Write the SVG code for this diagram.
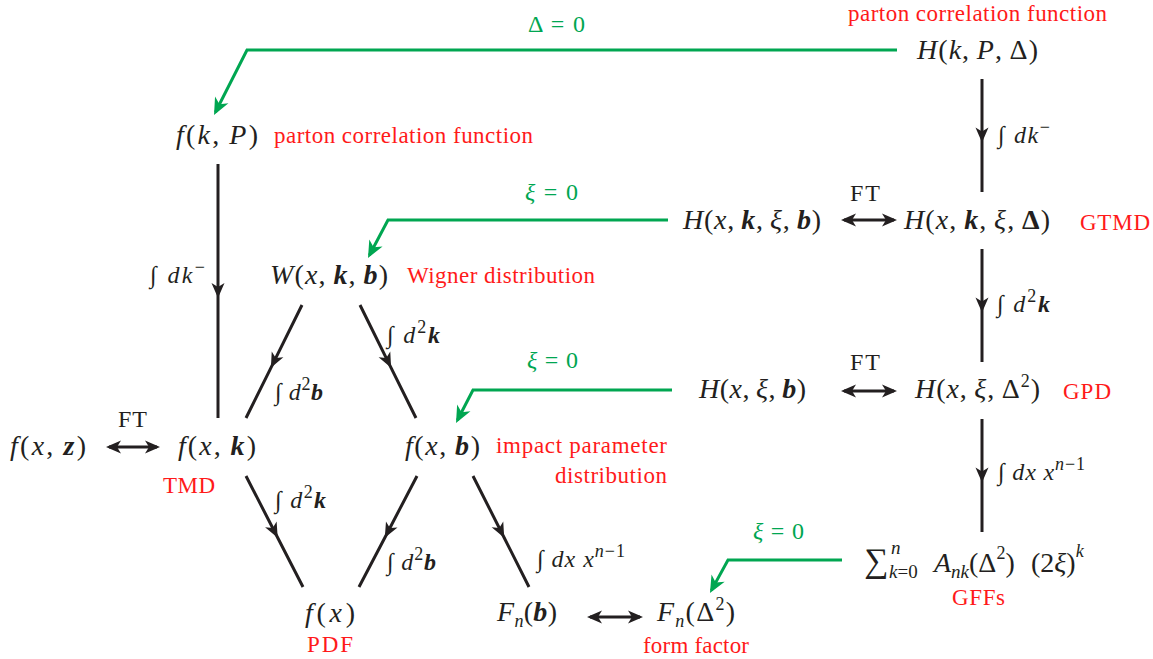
<svg xmlns="http://www.w3.org/2000/svg" width="1153" height="659" viewBox="0 0 1153 659">
<style>
text{font-family:"Liberation Serif",serif}
.m{font-size:28px;fill:#231f20}
.i{font-style:italic}
.bi{font-style:italic;font-weight:bold}
.bu{font-weight:bold}
.s{font-size:18px}
.l{font-size:24px;fill:#231f20}
.r{font-size:23px;fill:#ff1a1a}
.g{font-size:24px;fill:#00a651}
.ln{fill:none;stroke:#231f20;stroke-width:3}
.gl{fill:none;stroke:#00a651;stroke-width:3}
</style>
<defs>
<marker id="am" markerUnits="userSpaceOnUse" viewBox="-16 -8 18 16" markerWidth="18" markerHeight="16" refX="0" refY="0" orient="auto"><path d="M0,0 L-15,-6.5 L-11,0 L-15,6.5Z" fill="#231f20"/></marker>
<marker id="ae" markerUnits="userSpaceOnUse" viewBox="-16 -8 18 16" markerWidth="18" markerHeight="16" refX="-3" refY="0" orient="auto-start-reverse"><path d="M0,0 L-15,-6.5 L-11,0 L-15,6.5Z" fill="#231f20"/></marker>
<marker id="ag" markerUnits="userSpaceOnUse" viewBox="-18 -9 20 18" markerWidth="20" markerHeight="18" refX="-3" refY="0" orient="auto"><path d="M0,0 L-17,-7.5 L-12,0 L-17,7.5Z" fill="#00a651"/></marker>
</defs>
<g id="connectors">
<path class="ln" d="M982,79 L982,142.5 L982,192" marker-mid="url(#am)"/>
<path class="ln" d="M982,249 L982,312.5 L982,362" marker-mid="url(#am)"/>
<path class="ln" d="M982,419 L982,482.5 L982,532" marker-mid="url(#am)"/>
<path class="ln" d="M218,164 L218,298 L218,418" marker-mid="url(#am)"/>
<path class="ln" d="M302,305 L270.9,367.8 L246,418" marker-mid="url(#am)"/>
<path class="ln" d="M360,305 L391.1,367.8 L416,418" marker-mid="url(#am)"/>
<path class="ln" d="M246,476 L277.7,537.7 L303,587" marker-mid="url(#am)"/>
<path class="ln" d="M417,476 L384.8,537.7 L359,587" marker-mid="url(#am)"/>
<path class="ln" d="M473,476 L504.2,537.7 L529,587" marker-mid="url(#am)"/>
<path class="ln" d="M844,220 L894,220" marker-start="url(#ae)" marker-end="url(#ae)"/>
<path class="ln" d="M844,391 L894,391" marker-start="url(#ae)" marker-end="url(#ae)"/>
<path class="ln" d="M109,447 L157,447" marker-start="url(#ae)" marker-end="url(#ae)"/>
<path class="ln" d="M590,617 L640,617" marker-start="url(#ae)" marker-end="url(#ae)"/>
<path class="gl" d="M897,50 L247,50 L215.4,112.3" marker-end="url(#ag)"/>
<path class="gl" d="M668,220 L388,220 L369.4,255.3" marker-end="url(#ag)"/>
<path class="gl" d="M672,390 L473,390 L457.4,420.3" marker-end="url(#ag)"/>
<path class="gl" d="M842,560 L728,560 L711.4,590.4" marker-end="url(#ag)"/>
<text class="g" x="528" y="32" textLength="57">Δ = 0</text>
<text class="g" x="525" y="200" textLength="53"><tspan class="i">ξ</tspan> = 0</text>
<text class="g" x="527" y="368" textLength="51"><tspan class="i">ξ</tspan> = 0</text>
<text class="g" x="753" y="539" textLength="51"><tspan class="i">ξ</tspan> = 0</text>
<text class="l" x="998" y="143" textLength="52">∫ <tspan class="i">dk</tspan><tspan class="s" dy="-10">−</tspan></text>
<text class="l" x="150" y="283" textLength="55">∫ <tspan class="i">dk</tspan><tspan class="s" dy="-10">−</tspan></text>
<text class="l" x="997" y="312" textLength="53">∫ <tspan class="i">d</tspan><tspan class="s" dy="-10">2</tspan><tspan class="bi" dy="10">k</tspan></text>
<text class="l" x="387" y="343" textLength="53">∫ <tspan class="i">d</tspan><tspan class="s" dy="-10">2</tspan><tspan class="bi" dy="10">k</tspan></text>
<text class="l" x="275" y="400" textLength="48">∫ <tspan class="i">d</tspan><tspan class="s" dy="-10">2</tspan><tspan class="bi" dy="10">b</tspan></text>
<text class="l" x="275" y="508" textLength="51">∫ <tspan class="i">d</tspan><tspan class="s" dy="-10">2</tspan><tspan class="bi" dy="10">k</tspan></text>
<text class="l" x="387" y="570" textLength="49">∫ <tspan class="i">d</tspan><tspan class="s" dy="-10">2</tspan><tspan class="bi" dy="10">b</tspan></text>
<text class="l" x="537" y="567" textLength="88">∫ <tspan class="i">dx x</tspan><tspan class="s" dy="-10"><tspan class="i">n</tspan>−1</tspan></text>
<text class="l" x="998" y="480" textLength="87">∫ <tspan class="i">dx x</tspan><tspan class="s" dy="-10"><tspan class="i">n</tspan>−1</tspan></text>
<text class="l" x="850" y="201" textLength="30">FT</text>
<text class="l" x="850" y="370" textLength="30">FT</text>
<text class="l" x="118" y="427" textLength="29">FT</text>
</g>

<g id="n-HkPD">
<text class="r" x="848" y="21" textLength="259">parton correlation function</text>
<text class="m" x="917" y="59" textLength="121"><tspan class="i">H</tspan>(<tspan class="i">k</tspan>,&#8201;<tspan class="i">P</tspan>,&#8201;Δ)</text>
</g>
<g id="n-fkP">
<text class="m" x="176" y="144" textLength="82"><tspan class="i">f</tspan>(<tspan class="i">k</tspan>,&#8201;<tspan class="i">P</tspan>)</text>
<text class="r" x="274" y="143" textLength="259">parton correlation function</text>
</g>
<g id="n-Hxkxb">
<text class="m" x="683" y="229" textLength="138"><tspan class="i">H</tspan>(<tspan class="i">x</tspan>,&#8201;<tspan class="bi">k</tspan>,&#8201;<tspan class="i">ξ</tspan>,&#8201;<tspan class="bi">b</tspan>)</text>
</g>
<g id="n-HxkxD">
<text class="m" x="904" y="229" textLength="146"><tspan class="i">H</tspan>(<tspan class="i">x</tspan>,&#8201;<tspan class="bi">k</tspan>,&#8201;<tspan class="i">ξ</tspan>,&#8201;<tspan class="bu">Δ</tspan>)</text>
<text class="r" x="1080" y="230" textLength="70">GTMD</text>
</g>
<g id="n-W">
<text class="m" x="270" y="284" textLength="118"><tspan class="i">W</tspan>(<tspan class="i">x</tspan>,&#8201;<tspan class="bi">k</tspan>,&#8201;<tspan class="bi">b</tspan>)</text>
<text class="r" x="407" y="283" textLength="188">Wigner distribution</text>
</g>
<g id="n-Hxxb">
<text class="m" x="699" y="398" textLength="107"><tspan class="i">H</tspan>(<tspan class="i">x</tspan>,&#8201;<tspan class="i">ξ</tspan>,&#8201;<tspan class="bi">b</tspan>)</text>
</g>
<g id="n-HxxD2">
<text class="m" x="915" y="398" textLength="125"><tspan class="i">H</tspan>(<tspan class="i">x</tspan>,&#8201;<tspan class="i">ξ</tspan>,&#8201;Δ<tspan class="s" dy="-11">2</tspan><tspan dy="11">)</tspan></text>
<text class="r" x="1063" y="399" textLength="48">GPD</text>
</g>
<g id="n-fxz">
<text class="m" x="10" y="455" textLength="76"><tspan class="i">f</tspan>(<tspan class="i">x</tspan>,&#8201;<tspan class="bi">z</tspan>)</text>
</g>
<g id="n-fxk">
<text class="m" x="178" y="455" textLength="78"><tspan class="i">f</tspan>(<tspan class="i">x</tspan>,&#8201;<tspan class="bi">k</tspan>)</text>
<text class="r" x="163" y="493" textLength="52">TMD</text>
</g>
<g id="n-fxb">
<text class="m" x="405" y="455" textLength="75"><tspan class="i">f</tspan>(<tspan class="i">x</tspan>,&#8201;<tspan class="bi">b</tspan>)</text>
<text class="r" x="496" y="453" textLength="171">impact parameter</text>
<text class="r" x="555" y="483" textLength="112">distribution</text>
</g>
<g id="n-sum">
<text class="m" y="572"><tspan x="864" style="font-size:34px">∑</tspan><tspan class="s" x="889" y="578" style="font-size:19px"><tspan class="i">k</tspan>=0</tspan><tspan class="s i" x="891" y="554" style="font-size:19px">n</tspan><tspan class="i" x="934" y="572">A</tspan><tspan class="s i" y="578" style="font-size:19px">nk</tspan><tspan y="572">(Δ</tspan><tspan class="s" y="559">2</tspan><tspan y="572">)</tspan><tspan x="1031" y="572">(2</tspan><tspan class="i">ξ</tspan>)<tspan class="s i" y="557">k</tspan></text>
<text class="r" x="952" y="605" textLength="53">GFFs</text>
</g>
<g id="n-fx">
<text class="m" x="305" y="622" textLength="50"><tspan class="i">f</tspan>(<tspan class="i">x</tspan>)</text>
<text class="r" x="307" y="652" textLength="46">PDF</text>
</g>
<g id="n-Fnb">
<text class="m" x="497" y="621" textLength="60"><tspan class="i">F</tspan><tspan class="i s" dy="6">n</tspan><tspan dy="-6">(</tspan><tspan class="bi">b</tspan>)</text>
</g>
<g id="n-FnD">
<text class="m" x="657" y="621" textLength="78"><tspan class="i">F</tspan><tspan class="i s" dy="6">n</tspan><tspan dy="-6">(Δ</tspan><tspan class="s" dy="-11">2</tspan><tspan dy="11">)</tspan></text>
<text class="r" x="643" y="653" textLength="106">form factor</text>
</g>
</svg>
